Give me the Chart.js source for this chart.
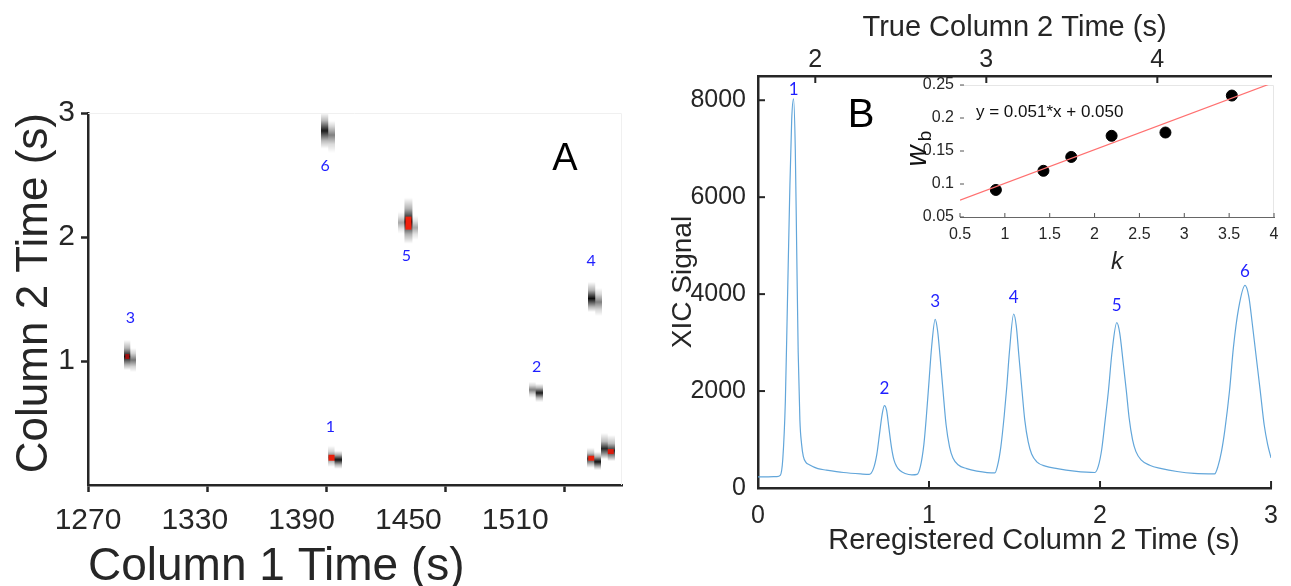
<!DOCTYPE html>
<html><head><meta charset="utf-8">
<script src="https://cdn.jsdelivr.net/npm/chart.js@4.4.1/dist/chart.umd.min.js"></script>
<style>
html,body{margin:0;padding:0;background:#fff;width:1291px;height:586px;overflow:hidden;}
.c{position:absolute;}
canvas{display:block;}
</style></head><body>
<div class="c" style="left:0;top:0;"><canvas id="a" width="645" height="586"></canvas></div>
<div class="c" style="left:645px;top:0;"><canvas id="b" width="646" height="586"></canvas></div>
<div class="c" style="left:871px;top:60px;"><canvas id="inset" width="420" height="215"></canvas></div>
<script>
// ---------- Panel A data ----------
const aCol1Ticks = [1270, 1330, 1390, 1450, 1510];
const aCol2Ticks = [1, 2, 3];
const spotCol1 = [1391.0, 1394.2, 1431.4, 1495.5, 1525.5, 1291.3, 1525.0, 1531.8];
const spotCol2 = [2.85, 0.22, 2.10, 0.76, 1.50, 1.04, 0.22, 0.29];
const spotLabelText = ['6', '1', '5', '2', '4', '3'];
const spotLabelCol1 = [1389.4, 1392.1, 1430.4, 1496.0, 1523.5, 1291.3];
const spotLabelCol2 = [2.57, 0.47, 1.85, 0.95, 1.81, 1.35];

// ---------- Panel B data ----------
const xicTime = [0.000,0.060,0.110,0.130,0.145,0.160,0.172,0.185,0.197,0.208,0.218,0.226,0.235,0.245,0.255,0.265,0.280,0.300,0.350,0.400,0.500,0.600,
 0.650,0.675,0.695,0.710,0.725,0.739,0.752,0.765,0.780,0.795,0.810,0.830,0.860,0.900,
 0.930,0.950,0.970,0.985,1.000,1.015,1.036,1.050,1.065,1.082,1.100,1.120,1.140,1.170,1.220,1.280,
 1.385,1.400,1.420,1.440,1.455,1.470,1.495,1.510,1.525,1.544,1.560,1.580,1.600,1.630,1.680,1.750,1.850,
 1.970,1.990,2.010,2.030,2.049,2.070,2.098,2.115,2.135,2.154,2.170,2.190,2.210,2.240,2.290,2.360,2.450,2.550,
 2.670,2.690,2.710,2.730,2.757,2.780,2.810,2.848,2.870,2.890,2.910,2.937,2.960,2.980,3.000];
const xicSignal = [230,230,235,260,600,1800,3800,6000,7600,8030,7000,5000,2800,1400,900,650,530,480,400,370,320,290,
 280,400,700,1100,1500,1700,1600,1250,850,580,450,360,300,270,
 280,450,900,1500,2200,2900,3480,3250,2700,2000,1300,850,620,480,400,350,
 310,450,850,1500,2100,2800,3590,3350,2750,2000,1400,950,700,540,450,400,350,
 320,450,800,1400,2000,2800,3410,3200,2600,2000,1450,1000,750,580,470,400,340,300,
 290,450,750,1200,2000,2900,3700,4180,3950,3400,2800,2000,1300,900,620];
const bXTicks = [0, 1, 2, 3];
const bTopTicks = [2, 3, 4];
const bYTicks = [0, 2000, 4000, 6000, 8000];
const peakLabelText = ['1','2','3','4','5','6'];
const peakTime = [0.208, 0.739, 1.036, 1.495, 2.098, 2.848];
const peakHeight = [8030, 1700, 3480, 3590, 3410, 4180];

// ---------- Inset data ----------
const kValues = [0.90, 1.43, 1.74, 2.19, 2.79, 3.53];
const wbValues = [0.091, 0.120, 0.141, 0.173, 0.178, 0.234];
const fitK = [0.5, 4.0];
const fitWb = [0.0755, 0.254];
const insetXTicks = [0.5, 1, 1.5, 2, 2.5, 3, 3.5, 4];
const insetYTicks = [0.05, 0.1, 0.15, 0.2, 0.25];

// ---------- styles ----------
const FONT = "'Liberation Sans', Arial, sans-serif";
const TXT = '#262626';
const BLUE = '#1f1fff';

const spotLooks = [
 {w:14,h:42,cols:[{x:0,w:7,t:2,b:38,p:0.5,d:0.9},{x:7,w:7,t:10,b:42,p:0.45,d:0.5}]},
 {w:14,h:30,cols:[{x:0,w:7,t:3,b:24,p:0.55,d:0.55},{x:7,w:7,t:8,b:26,p:0.5,d:0.95}],red:{x:1,y:12,w:6,h:6,c:'#e8200c'}},
 {w:20,h:58,cols:[{x:6,w:8,t:2,b:48,p:0.52,d:1},{x:0,w:6,t:16,b:38,p:0.5,d:0.35},{x:14,w:6,t:20,b:44,p:0.5,d:0.35}],red:{x:7,y:21,w:6,h:13,c:'#f0200c'}},
 {w:14,h:22,cols:[{x:0,w:7,t:2,b:18,p:0.5,d:0.5},{x:7,w:7,t:4,b:22,p:0.5,d:0.9}]},
 {w:14,h:34,cols:[{x:0,w:7,t:0,b:30,p:0.55,d:0.95},{x:7,w:7,t:6,b:34,p:0.5,d:0.5}]},
 {w:12,h:32,cols:[{x:0,w:6,t:0,b:30,p:0.55,d:0.95},{x:6,w:6,t:8,b:32,p:0.5,d:0.55}],red:{x:1,y:14,w:4,h:5,c:'#a01010'}},
 {w:14,h:24,cols:[{x:0,w:7,t:2,b:22,p:0.55,d:0.8},{x:7,w:7,t:6,b:24,p:0.55,d:0.95}],red:{x:1,y:10,w:6,h:5,c:'#e8200c'}},
 {w:14,h:32,cols:[{x:0,w:7,t:0,b:26,p:0.6,d:0.85},{x:7,w:7,t:2,b:28,p:0.6,d:0.85}],red:{x:7,y:16,w:6,h:5,c:'#d81a0c'}}
];
function makeSpot(s){
  const cv=document.createElement('canvas'); cv.width=s.w; cv.height=s.h;
  const g=cv.getContext('2d');
  s.cols.forEach(c=>{
    const grd=g.createLinearGradient(0,c.t,0,c.b);
    grd.addColorStop(0,'rgba(0,0,0,0)');
    grd.addColorStop(Math.max(0.01,c.p-0.28),'rgba(0,0,0,'+(0.3*c.d)+')');
    grd.addColorStop(c.p,'rgba(0,0,0,'+c.d+')');
    grd.addColorStop(Math.min(0.99,c.p+0.28),'rgba(0,0,0,'+(0.3*c.d)+')');
    grd.addColorStop(1,'rgba(0,0,0,0)');
    g.fillStyle=grd; g.fillRect(c.x,c.t,c.w,c.b-c.t);
  });
  if(s.red){ g.fillStyle=s.red.c; g.fillRect(s.red.x,s.red.y,s.red.w,s.red.h); }
  return cv;
}
const spotImgs = spotLooks.map(makeSpot);

const inwardTicks = {
  id:'inwardTicks',
  afterDatasetsDraw(chart, args, opts){
    const ctx=chart.ctx, ca=chart.chartArea;
    (opts.axes||[]).forEach(a=>{
      const s=chart.scales[a.id];
      ctx.save(); ctx.strokeStyle=a.color; ctx.lineWidth=a.width;
      s.ticks.forEach(t=>{
        const p=s.getPixelForValue(t.value);
        ctx.beginPath();
        if(s.isHorizontal()){
          const y = s.position==='top' ? ca.top : ca.bottom;
          ctx.moveTo(p,y); ctx.lineTo(p, s.position==='top' ? y+a.len : y-a.len);
        } else {
          ctx.moveTo(ca.left,p); ctx.lineTo(ca.left+a.len,p);
        }
        ctx.stroke();
      });
      ctx.restore();
    });
  }
};

const textsA = {
  id:'textsA',
  afterDatasetsDraw(chart){
    const ctx=chart.ctx, xs=chart.scales.x, ys=chart.scales.y, ca=chart.chartArea;
    ctx.save();
    ctx.strokeStyle='#f0f0f0'; ctx.lineWidth=1;
    ctx.beginPath(); ctx.moveTo(ca.left,ca.top+0.5); ctx.lineTo(ca.right-0.5,ca.top+0.5); ctx.lineTo(ca.right-0.5,ca.bottom); ctx.stroke();
    ctx.fillStyle=BLUE; ctx.font="16px Lato, 'Open Sans', sans-serif"; ctx.textAlign='center'; ctx.textBaseline='middle';
    spotLabelText.forEach((t,i)=>ctx.fillText(t, xs.getPixelForValue(spotLabelCol1[i]), ys.getPixelForValue(spotLabelCol2[i])));
    ctx.fillStyle='#000'; ctx.font="38px "+FONT;
    ctx.fillText('A', ca.right-57, ca.top+47);
    ctx.restore();
  }
};

const textsB = {
  id:'textsB',
  afterDatasetsDraw(chart){
    const ctx=chart.ctx, xs=chart.scales.x, ys=chart.scales.y, ca=chart.chartArea;
    const off=[9,17,18,16,17,14];
    ctx.save();
    ctx.fillStyle=BLUE; ctx.font="17px Lato, 'Open Sans', sans-serif"; ctx.textAlign='center'; ctx.textBaseline='middle';
    peakLabelText.forEach((t,i)=>ctx.fillText(t, xs.getPixelForValue(peakTime[i]), ys.getPixelForValue(peakHeight[i])-off[i]));
    ctx.fillStyle='#000'; ctx.font="40px "+FONT;
    ctx.fillText('B', ca.left+103, ca.top+40);
    ctx.fillStyle=TXT; ctx.font="29px "+FONT;
    ctx.fillText('Reregistered Column 2 Time (s)', ca.left+276, 541);
    ctx.restore();
  }
};

const insetDeco = {
  id:'insetDeco',
  beforeDatasetsDraw(chart){
    const ctx=chart.ctx, ca=chart.chartArea;
    ctx.save();
    ctx.fillStyle='#fff'; ctx.fillRect(ca.left,ca.top,ca.right-ca.left,ca.bottom-ca.top);
    ctx.strokeStyle='#e6e6e6'; ctx.lineWidth=1;
    ctx.beginPath(); ctx.moveTo(ca.left,ca.top+0.5); ctx.lineTo(ca.right-0.5,ca.top+0.5); ctx.lineTo(ca.right-0.5,ca.bottom); ctx.stroke();
    ctx.restore();
  },
  afterDatasetsDraw(chart){
    const ctx=chart.ctx, ca=chart.chartArea;
    ctx.save();
    ctx.fillStyle='#111'; ctx.font="17px "+FONT; ctx.textAlign='left'; ctx.textBaseline='middle';
    ctx.fillText('y = 0.051*x + 0.050', ca.left+16, ca.top+27);
    ctx.translate(ca.left-42, 90); ctx.rotate(-Math.PI/2);
    ctx.font="italic 29px "+FONT; ctx.textAlign='center';
    ctx.fillText('w', -6, 0);
    ctx.font="19px "+FONT;
    ctx.fillText('b', 14, 8);
    ctx.restore();
  }
};

const tickFont = (s)=>({size:s, family:FONT});

// ---------- Chart A ----------
new Chart(document.getElementById('a'), {
  type:'scatter',
  data:{datasets:[{data: spotCol1.map((x,i)=>({x, y:spotCol2[i]})),
    pointStyle: (c)=>spotImgs[c.dataIndex], pointRadius:10, pointHoverRadius:10}]},
  options:{
    responsive:false, animation:false, devicePixelRatio:1, events:[],
    layout:{padding:{left:0,top:113,right:23,bottom:0}},
    plugins:{legend:{display:false}, tooltip:{enabled:false}},
    scales:{
      x:{type:'linear', position:'bottom', min:1270, max:1539, weight:0,
        afterBuildTicks:s=>{s.ticks=aCol1Ticks.map(v=>({value:v}));},
        afterFit:s=>{s.height=7;},
        ticks:{display:false},
        grid:{drawOnChartArea:false, drawTicks:true, tickLength:7, tickWidth:2.5, tickColor:TXT},
        border:{color:TXT, width:2.5}
      },
      xLabels:{type:'linear', position:'bottom', min:1270, max:1570, weight:5,
        afterBuildTicks:s=>{s.ticks=aCol1Ticks.map(v=>({value:v}));},
        afterFit:s=>{s.height=94;},
        ticks:{autoSkip:false, maxRotation:0, font:tickFont(30), color:TXT, padding:11, callback:v=>String(v)},
        grid:{display:false, drawTicks:false},
        border:{display:false},
        title:{display:true, align:'start', text:'Column 1 Time (s)', color:TXT, font:{size:46, family:FONT, lineHeight:0.8}, padding:{top:0,bottom:0}}
      },
      y:{type:'linear', min:0, max:3,
        afterBuildTicks:s=>{s.ticks=aCol2Ticks.map(v=>({value:v}));},
        afterFit:s=>{s.width=88;},
        ticks:{autoSkip:false, font:tickFont(30), color:TXT, padding:6, callback:v=>String(v)},
        grid:{drawOnChartArea:false, drawTicks:true, tickLength:7, tickWidth:2.5, tickColor:TXT},
        border:{color:TXT, width:2.5},
        title:{display:true, align:'end', text:'Column 2 Time (s)', color:TXT, font:{size:44, family:FONT, lineHeight:0.8}, padding:{top:17,bottom:0}}
      }
    }
  },
  plugins:[textsA]
});

// ---------- Chart B ----------
new Chart(document.getElementById('b'), {
  type:'line',
  data:{datasets:[{data: xicTime.map((x,i)=>({x, y:xicSignal[i]})), borderColor:'#62a6da', borderWidth:1.2,
    pointRadius:0, cubicInterpolationMode:'monotone', fill:false}]},
  options:{
    responsive:false, animation:false, devicePixelRatio:1, events:[],
    layout:{padding:{left:0,top:0,right:11,bottom:0}},
    plugins:{legend:{display:false}, tooltip:{enabled:false},
      inwardTicks:{axes:[{id:'x',len:7,width:2,color:TXT},{id:'x2',len:7,width:2,color:TXT},{id:'y',len:7,width:2,color:TXT}]}},
    scales:{
      x:{type:'linear', position:'bottom', min:0, max:3,
        afterBuildTicks:s=>{s.ticks=bXTicks.map(v=>({value:v}));},
        afterFit:s=>{s.height=98;},
        ticks:{autoSkip:false, maxRotation:0, font:tickFont(25), color:TXT, padding:13, callback:v=>String(v)},
        grid:{drawOnChartArea:false, drawTicks:false},
        border:{color:TXT, width:2.5}
      },
      x2:{type:'linear', position:'top', min:1.665, max:4.665,
        afterBuildTicks:s=>{s.ticks=bTopTicks.map(v=>({value:v}));},
        afterFit:s=>{s.height=76;},
        ticks:{autoSkip:false, maxRotation:0, font:tickFont(25), color:TXT, padding:1, callback:v=>String(v)},
        grid:{drawOnChartArea:false, drawTicks:false},
        border:{color:TXT, width:2.5},
        title:{display:true, text:'True Column 2 Time (s)', color:TXT, font:{size:29, family:FONT, lineHeight:1.2}, padding:{top:11,bottom:0}}
      },
      y:{type:'linear', min:0, max:8500,
        afterBuildTicks:s=>{s.ticks=bYTicks.map(v=>({value:v}));},
        afterFit:s=>{s.width=113;},
        ticks:{autoSkip:false, font:tickFont(25), color:TXT, padding:12, callback:v=>String(v)},
        grid:{drawOnChartArea:false, drawTicks:false},
        border:{color:TXT, width:2.5},
        title:{display:true, text:'XIC Signal', color:TXT, font:{size:28, family:FONT, lineHeight:1.2}, padding:{top:21,bottom:0}}
      }
    }
  },
  plugins:[inwardTicks, textsB]
});

// ---------- Inset ----------
new Chart(document.getElementById('inset'), {
  type:'scatter',
  data:{datasets:[
    {type:'line', data: fitK.map((x,i)=>({x, y:fitWb[i]})), borderColor:'#ff7070', borderWidth:1.2, pointRadius:0, fill:false},
    {data: kValues.map((x,i)=>({x, y:wbValues[i]})), backgroundColor:'#000', borderColor:'#000', pointRadius:5.5, pointHoverRadius:5.5}
  ]},
  options:{
    responsive:false, animation:false, devicePixelRatio:1, events:[],
    layout:{padding:{left:0,top:25,right:17,bottom:0}},
    plugins:{legend:{display:false}, tooltip:{enabled:false},
      inwardTicks:{axes:[{id:'x',len:4,width:1,color:'#555'},{id:'y',len:4,width:1,color:'#555'}]}},
    scales:{
      x:{type:'linear', min:0.5, max:4,
        afterBuildTicks:s=>{s.ticks=insetXTicks.map(v=>({value:v}));},
        afterFit:s=>{s.height=58;},
        ticks:{autoSkip:false, maxRotation:0, font:tickFont(16), color:TXT, padding:8, callback:v=>String(v)},
        grid:{drawOnChartArea:false, drawTicks:false},
        border:{color:'#666', width:1},
        title:{display:true, text:'k', color:TXT, font:{size:24, family:FONT, style:'italic', lineHeight:1}, padding:{top:0,bottom:1}}
      },
      y:{type:'linear', min:0.05, max:0.25,
        afterBuildTicks:s=>{s.ticks=insetYTicks.map(v=>({value:v}));},
        afterFit:s=>{s.width=89;},
        ticks:{autoSkip:false, font:tickFont(16), color:TXT, padding:6, callback:v=>String(v)},
        grid:{drawOnChartArea:false, drawTicks:false},
        border:{color:'#666', width:1}
      }
    }
  },
  plugins:[insetDeco, inwardTicks]
});
</script>
</body></html>
